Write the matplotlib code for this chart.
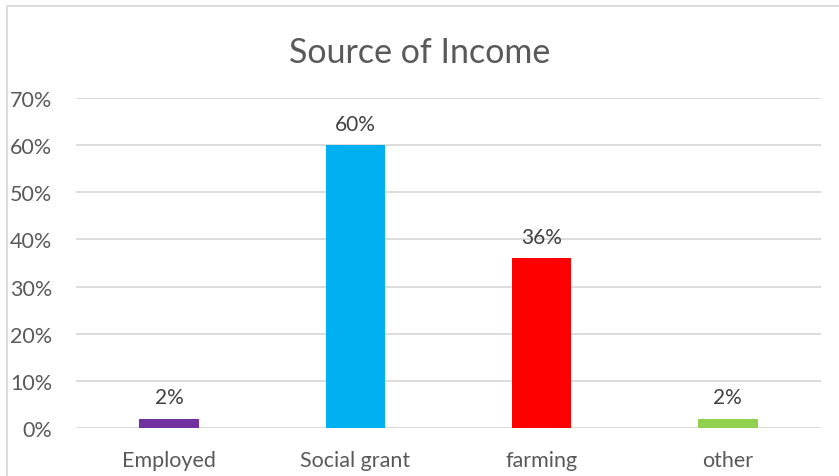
import matplotlib.pyplot as plt
from matplotlib.patches import Rectangle

plt.rcParams['font.family'] = ['Lato', 'DejaVu Sans']

# data
categories = ['Employed', 'Social grant', 'farming', 'other']
shares = [0.02, 0.60, 0.36, 0.02]
colors = ['#7030A0', '#00B0F0', '#FF0000', '#92D050']
yticks = [0, 0.1, 0.2, 0.3, 0.4, 0.5, 0.6, 0.7]

txt = '#595959'
fig = plt.figure(figsize=(8.39, 4.77), dpi=100)
ax = fig.add_axes([76/839, 1 - 429/477, 745/839, 330/477])

x = range(len(categories))
bars = ax.bar(x, shares, width=0.32, color=colors, zorder=3)
for b, v in zip(bars, shares):
    ax.annotate(f'{v:.0%}', (b.get_x() + b.get_width()/2, v),
                xytext=(0, 8), textcoords='offset points',
                ha='center', va='bottom', fontsize=15, color='#404040')

ax.set_xlim(-0.5, len(categories) - 0.5)
ax.set_ylim(0, 0.7)
ax.set_yticks(yticks)
ax.set_yticklabels([f'{t:.0%}' for t in yticks])
ax.set_xticks(list(x))
ax.set_xticklabels(categories)
ax.tick_params(length=0, labelsize=15.5, labelcolor=txt)
ax.tick_params(axis='y', pad=17)
ax.tick_params(axis='x', pad=16)
ax.yaxis.grid(True, color='#D9D9D9', lw=1.3, zorder=0)
for s in ax.spines.values():
    s.set_visible(False)

fig.text(0.5, 1 - 53/477, 'Source of Income', ha='center', va='center',
         fontsize=24.5, color=txt)

# chart border (cropped on right and bottom)
fig.patches.append(Rectangle((7/839, -0.1), 1.2, 1 - 7/477 + 0.1,
                             transform=fig.transFigure, fill=False,
                             edgecolor='#D9D9D9', lw=1.3))

fig.savefig('out.png', dpi=100)
